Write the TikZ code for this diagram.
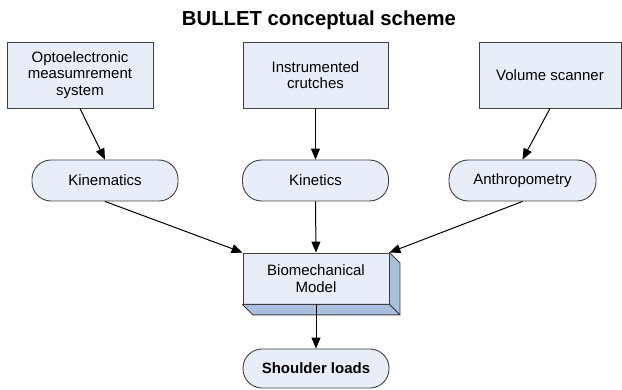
\documentclass[tikz,border=0pt]{standalone}
\usepackage{fontspec}
\setmainfont{Liberation Sans}
\usetikzlibrary{arrows.meta,calc}
\definecolor{boxfill}{RGB}{232,238,248}
\definecolor{boxline}{RGB}{64,64,64}
\definecolor{depthfill}{RGB}{170,190,222}
\tikzset{
  srcbox/.style={draw=boxline, line width=0.9pt, fill=boxfill, rectangle, minimum height=66pt, align=center, inner sep=2pt, font=\fontsize{15}{16.7}\selectfont},
  pill/.style={draw=boxline, line width=0.9pt, fill=boxfill, rectangle, rounded corners=19pt, minimum width=146pt, minimum height=41pt, align=center, font=\fontsize{15}{16.7}\selectfont},
  modelbox/.style={draw=boxline, line width=0.9pt, fill=boxfill, rectangle, minimum width=146pt, minimum height=51pt, align=center, font=\fontsize{15}{16.7}\selectfont},
  depth/.style={draw=boxline, line width=0.9pt, fill=depthfill, line join=round},
  conn/.style={draw=black, line width=1pt, -{Triangle[length=11pt,width=9pt]}},
}
\begin{document}
\begin{tikzpicture}[x=1pt,y=-1pt]
\useasboundingbox (0,0) rectangle (622,390);
\node (title) at (319,20) {\fontsize{20.3}{23}\selectfont\bfseries BULLET conceptual scheme};
\node[srcbox, minimum width=146pt] (opto) at (80,75) {Optoelectronic\\measumrement\\system};
\node[srcbox, minimum width=145pt] (crutch) at (315.5,75) {Instrumented\\crutches};
\node[srcbox, minimum width=142pt] (scan) at (550,75) {Volume scanner};
\node[pill] (kinem) at (105,180.5) {Kinematics};
\node[pill] (kinet) at (315.5,180.5) {Kinetics};
\node[pill, minimum width=147pt] (anthro) at (522.5,180.5) {Anthropometry};
\node[modelbox] (model) at (316,278.5) {Biomechanical\\Model};
\draw[depth] (model.north east) -- ($(model.north east)+(10.5,10.5)$) -- ($(model.south east)+(10.5,10.5)$) -- (model.south east) -- cycle;
\draw[depth] (model.south west) -- (model.south east) -- ($(model.south east)+(10.5,10.5)$) -- ($(model.south west)+(10.5,10.5)$) -- cycle;
\node[pill, minimum height=39pt, font=\fontsize{15}{16.7}\selectfont\bfseries] (loads) at (316,368.5) {Shoulder loads};
\draw[conn] (opto.south) -- (kinem.north);
\draw[conn] (crutch.south) -- (kinet.north);
\draw[conn] (scan.south) -- (anthro.north);
\draw[conn] (kinem.south) -- (model.north west);
\draw[conn] (kinet.south) -- (model.north);
\draw[conn] (anthro.south) -- (model.north east);
\draw[conn] (model.south) -- (loads.north);
\end{tikzpicture}
\end{document}
